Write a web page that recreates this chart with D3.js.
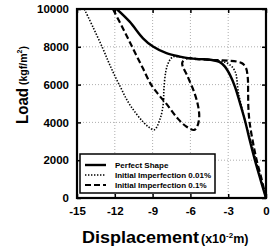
<!DOCTYPE html>
<html>
<head>
<meta charset="utf-8">
<script src="https://cdn.jsdelivr.net/npm/d3@7"></script>
<style>
  body { margin: 0; background: #fff; }
  text { font-family: "Liberation Sans", Arial, sans-serif; font-weight: bold; }
</style>
</head>
<body>
<div id="chart"></div>
<script>
// displacement in x10^-2 m, load in kgf/m^2
var perfect = [[0,0],[-0.45,1000],[-0.88,2000],[-1.27,3000],[-1.67,4100],[-2.1,5100],[-2.47,5900],
  [-2.85,6500],[-3.26,6950],[-3.7,7200],[-4.3,7300],[-5.2,7350],[-6.05,7390],[-6.84,7480],
  [-7.9,7660],[-8.97,8010],[-9.76,8450],[-10.82,9330],[-11.85,10000]];
var imp001 = [[0,0],[-0.6,1500],[-1.2,3000],[-1.67,4100],[-2.0,5000],[-2.2,5600],[-2.3,6200],
  [-2.4,6600],[-2.7,6950],[-3.2,7170],[-4,7280],[-5,7340],[-6.5,7420],[-7.4,7460],[-7.75,7150],
  [-7.95,6700],[-8.1,5800],[-8.15,5000],[-8.4,4200],[-8.86,3610],[-9.3,3750],[-9.8,4060],
  [-10.4,4550],[-10.98,5120],[-11.5,5800],[-12.04,6520],[-12.5,7200],[-12.97,7940],
  [-13.7,9000],[-14.42,10000]];
var imp01 = [[0,0],[-0.35,1000],[-0.74,2000],[-1.05,3000],[-1.3,4000],[-1.4,4800],[-1.42,5600],
  [-1.45,6400],[-1.6,6900],[-1.9,7130],[-2.33,7220],[-3.0,7270],[-3.7,7290],[-4.5,7310],
  [-5.5,7350],[-6.3,7380],[-6.65,7150],[-6.2,6400],[-5.7,5600],[-5.4,4900],[-5.3,4300],
  [-5.45,3800],[-5.7,3600],[-6.3,3770],[-7.0,4200],[-7.85,4940],[-8.5,5450],[-9.12,6000],
  [-9.8,6900],[-10.58,7940],[-11.3,8900],[-12.15,10000]];
var xTicks = [-15,-12,-9,-6,-3,0];
var yTicks = [0,2000,4000,6000,8000,10000];
var series = [
  {name: 'Perfect Shape', data: perfect, width: 2.4, dash: null},
  {name: 'Initial Imperfection 0.01%', data: imp001, width: 1.6, dash: '1.4,1.6'},
  {name: 'Initial Imperfection 0.1%', data: imp01, width: 2.2, dash: '6,3'}
];

var W = 273, H = 249;
var svg = d3.select('#chart').append('svg').attr('width', W).attr('height', H);
var x = d3.scaleLinear().domain([-15, 0]).range([77, 266]);
var y = d3.scaleLinear().domain([0, 10000]).range([198, 9]);

// grid
svg.append('g').selectAll('line').data(xTicks.slice(1, -1)).enter().append('line')
  .attr('x1', d => x(d)).attr('x2', d => x(d)).attr('y1', y(0)).attr('y2', y(10000))
  .attr('stroke', '#999').attr('stroke-width', 0.8).attr('stroke-dasharray', '1,2');
svg.append('g').selectAll('line').data(yTicks.slice(1, -1)).enter().append('line')
  .attr('y1', d => y(d)).attr('y2', d => y(d)).attr('x1', x(-15)).attr('x2', x(0))
  .attr('stroke', '#999').attr('stroke-width', 0.8).attr('stroke-dasharray', '1,2');

// axes with inward ticks
var fmt = d => String(d);
var ax = svg.append('g').attr('transform', 'translate(0,' + y(0) + ')')
  .call(d3.axisBottom(x).tickValues(xTicks).tickFormat(fmt).tickSizeInner(-4).tickSizeOuter(0).tickPadding(9));
var ay = svg.append('g').attr('transform', 'translate(' + x(-15) + ',0)')
  .call(d3.axisLeft(y).tickValues(yTicks).tickFormat(fmt).tickSizeInner(-4).tickSizeOuter(0).tickPadding(8));
svg.append('g').attr('transform', 'translate(0,' + y(10000) + ')')
  .call(d3.axisTop(x).tickValues(xTicks).tickSizeInner(-4).tickSizeOuter(0).tickFormat(''));
svg.append('g').attr('transform', 'translate(' + x(0) + ',0)')
  .call(d3.axisRight(y).tickValues(yTicks).tickSizeInner(-4).tickSizeOuter(0).tickFormat(''));
svg.selectAll('.domain').remove();
svg.selectAll('.tick line').attr('stroke', '#000').attr('stroke-width', 1.5);
svg.selectAll('.tick text').attr('font-size', 11.5).attr('font-weight', 'bold').attr('fill', '#000')
  .attr('font-family', '"Liberation Sans", Arial, sans-serif');

svg.append('rect').attr('x', x(-15)).attr('y', y(10000))
  .attr('width', x(0) - x(-15)).attr('height', y(0) - y(10000))
  .attr('fill', 'none').attr('stroke', '#000').attr('stroke-width', 2.2);

// curves
var line = d3.line().x(d => x(d[0])).y(d => y(d[1])).curve(d3.curveCatmullRom.alpha(0.5));
svg.append('clipPath').attr('id', 'clip').append('rect')
  .attr('x', x(-15)).attr('y', y(10000)).attr('width', x(0) - x(-15)).attr('height', y(0) - y(10000));
svg.append('g').attr('clip-path', 'url(#clip)').selectAll('path').data(series).enter().append('path')
  .attr('d', d => line(d.data)).attr('fill', 'none').attr('stroke', '#000')
  .attr('stroke-width', d => d.width).attr('stroke-dasharray', d => d.dash);

// legend
var lg = svg.append('g').attr('transform', 'translate(80,154)');
lg.append('rect').attr('width', 135).attr('height', 39).attr('fill', '#fff')
  .attr('stroke', '#000').attr('stroke-width', 1.5);
series.forEach(function(s, i) {
  var yy = 11 + i * 10;
  lg.append('line').attr('x1', 5).attr('x2', 26).attr('y1', yy).attr('y2', yy)
    .attr('stroke', '#000').attr('stroke-width', s.width).attr('stroke-dasharray', s.dash);
  lg.append('text').attr('x', 35).attr('y', yy + 2.8).attr('font-size', 8).text(s.name);
});

// axis titles
svg.append('text').attr('x', 82).attr('y', 243).attr('font-size', 17)
  .attr('font-family', '"DejaVu Sans", sans-serif').attr('textLength', 117)
  .attr('lengthAdjust', 'spacingAndGlyphs').text('Displacement');
var xt = svg.append('text').attr('x', 201).attr('y', 243).attr('font-size', 12.5)
  .attr('font-family', '"DejaVu Sans", sans-serif');
xt.append('tspan').text('(x10');
xt.append('tspan').attr('font-size', 8).attr('dy', -5).text('-2');
xt.append('tspan').attr('dy', 5).text('m)');

svg.append('text').attr('transform', 'translate(28,124) rotate(-90)').attr('font-size', 17)
  .attr('font-family', '"DejaVu Sans", sans-serif').attr('textLength', 36)
  .attr('lengthAdjust', 'spacingAndGlyphs').text('Load');
var yt = svg.append('text').attr('transform', 'translate(27,85) rotate(-90)').attr('font-size', 10.5);
yt.append('tspan').text('(kgf/m');
yt.append('tspan').attr('font-size', 7).attr('dy', -5).text('2');
yt.append('tspan').attr('dy', 5).text(')');
</script>
</body>
</html>
